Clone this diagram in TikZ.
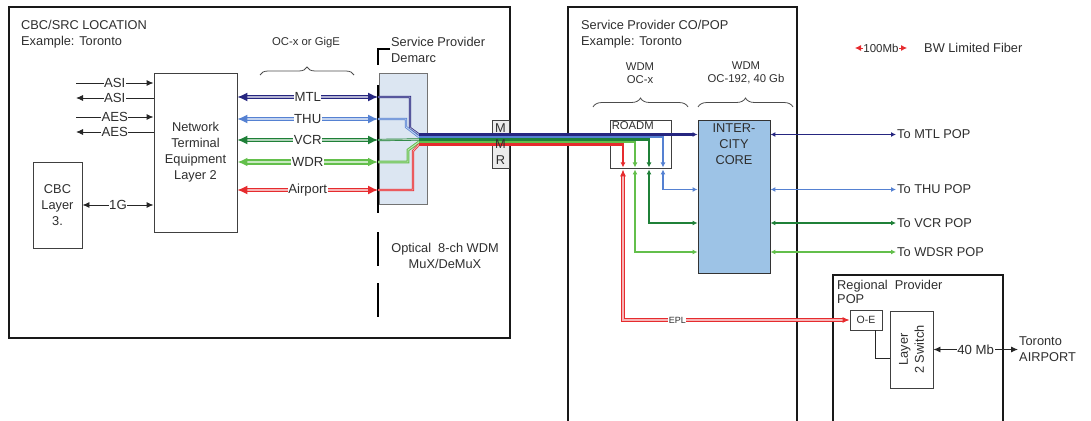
\documentclass[tikz,border=0pt]{standalone}
\usepackage{fontspec}
\setmainfont{Liberation Sans}
\usetikzlibrary{arrows.meta,decorations.pathreplacing,positioning}

\definecolor{navyln}{HTML}{262680}
\definecolor{blueln}{HTML}{5581D2}
\definecolor{greenln}{HTML}{1F8038}
\definecolor{limeln}{HTML}{63BF4B}
\definecolor{redln}{HTML}{E62B2E}
\definecolor{muxfill}{HTML}{DCE6F2}
\definecolor{corefill}{HTML}{9DC3E6}
\definecolor{inktext}{HTML}{2E2E2E}

\tikzset{
  region/.style={draw=black!90, line width=1.3pt},
  unit/.style={draw=black!75, line width=0.9pt, fill=white, inner sep=1pt},
  lbl/.style={text=inktext, font=\fontsize{12.8}{16}\selectfont, align=left, inner sep=1pt},
  note/.style={text=inktext, font=\fontsize{11.3}{13}\selectfont, align=center, inner sep=1pt},
  tag/.style={fill=white, text=inktext, font=\fontsize{13.2}{14}\selectfont, inner sep=0.5pt},
  sig/.style={draw=black!85, line width=0.9pt, >={Latex[length=7pt,width=6pt]}},
  chan/.style={draw=#1, double=#1!35, line width=1.3pt, double distance=1.4pt, >={Latex[length=10pt,width=9pt]}},
  fibre/.style={draw=#1, double=#1!35, line width=0.7pt, double distance=0.9pt},
  band/.style={draw=#1, line width=2.6pt, >={Latex[length=5pt,width=5pt]}},
  drop/.style={draw=#1, line width=1.2pt, >={Latex[length=5pt,width=5pt]}},
  span/.style={decorate, decoration={brace, amplitude=8pt}, draw=black!70, line width=0.8pt},
  demarc/.style={draw=black, line width=1.6pt},
  tonte/.style={->},
  fromnte/.style={<-}
}

\begin{document}
\begin{tikzpicture}[x=1pt, y=-1pt]
  \useasboundingbox (0,0) rectangle (1091,420);
  \clip (0,0) rectangle (1091,420);

  % sites
  \node[region, minimum width=501, minimum height=331] (cbcsite) at (259.5,172.5) {};
  \node[lbl, anchor=west] (cbctitle) at (20,34) {CBC/SRC LOCATION\\Example: Toronto};
  \draw[region] (568,425) |- (797,7) -- (797,425); % open at the bottom
  \node[lbl, anchor=west] (sptitle) at (580,34) {Service Provider CO/POP\\Example: Toronto};
  \draw[region] (833,425) |- (1003,275) -- (1003,425);
  \node[lbl, anchor=west, font=\fontsize{12.8}{14.5}\selectfont] (regtitle) at (836,292) {Regional\ \ Provider\\POP};

  % CBC equipment
  \node[unit, lbl, align=center, minimum width=83, minimum height=159] (nte) at (195.5,152.5) {Network\\Terminal\\Equipment\\Layer 2};
  \node[unit, lbl, align=center, minimum width=49, minimum height=86] (cbcl3) at (57.5,205) {CBC\\Layer\\3.};
  \draw[sig, <->] (cbcl3.east) -- node[tag] (onegig) {1G} (cbcl3.east -| nte.west);
  \foreach \y/\nm/\dir [count=\i] in {83/ASI/tonte, 98/ASI/fromnte, 117/AES/tonte, 132/AES/fromnte} {
    \coordinate (feed\i) at (76,\y);
    \draw[sig, \dir] (feed\i) -- node[tag] (feedlbl\i) {\nm} (feed\i -| nte.west);
  }
  \draw[span] (260,75) -- (354,75);
  \node[note] (ocx) at (306,43) {OC-x or GigE};

  % demarc and mux
  \node[fill=muxfill, draw=black!55, line width=0.9pt, minimum width=48, minimum height=131] (mux) at (403,138.5) {};
  \draw[demarc] (390,49) -- (378,49) -- (378,65);
  \foreach \a/\b in {85/213, 232/266, 283/317} \draw[demarc] (378,\a) -- (378,\b);
  \node[lbl, anchor=west] (dmlbl) at (390,50) {Service Provider\\Demarc};
  \node[lbl, align=center] (muxlbl) at (445,256) {Optical\ \ 8-ch WDM\\MuX/DeMuX};

  \foreach \y/\nm/\col/\w in {97/MTL/navyln/1.3, 119/THU/blueln/1.3, 140/VCR/greenln/1.3, 162/WDR/limeln/2, 190/Airport/redln/1.3} {
    \coordinate (dm\nm) at (378,\y);
    \draw[chan=\col, line width=\w pt, <->] (dm\nm -| nte.east) -- node[tag] (ch\nm) {\nm} (dm\nm);
  }
  \coordinate (mixpt) at (419,139.5);
  \draw[fibre=navyln] (dmMTL) -- (410,97) -- (410,128) -- ([yshift=5pt]mixpt);
  \draw[fibre=blueln] (dmTHU) -- (406,119) -- (406,127) -- ([yshift=2.5pt]mixpt);
  \draw[fibre=greenln] (dmVCR) -- (mixpt);
  \draw[fibre=limeln, line width=1pt] (dmWDR) -- (408,162) -- (408,150) -- ([yshift=-2.5pt]mixpt);
  \draw[fibre=redln] (dmAirport) -- (413,190) -- (413,151) -- ([yshift=-5pt]mixpt);

  % service provider equipment
  \node[unit, fill=black!8, minimum width=17, minimum height=48] (mmr) at (500.5,144) {};
  \node[unit, minimum width=61, minimum height=48] (roadm) at (640.5,144) {};
  \node[note, anchor=north west, inner sep=2pt] (roadmlbl) at (roadm.north west) {ROADM};
  \node[unit, fill=corefill, draw=black!80, minimum width=72, minimum height=153] (core) at (734,196.5) {};
  \node[lbl, align=center, below=3pt of core.north] (corelbl) {INTER-\\CITY\\CORE};
  \draw[span, decoration={amplitude=9pt}] (593,107) -- (688,107);
  \draw[span, decoration={amplitude=9pt}] (698,107) -- (793,107);
  \node[note] (wdmx) at (640,73) {WDM\\OC-x};
  \node[note] (wdmcore) at (746,73) {WDM\\OC-192, 40 Gb};

  \foreach \y/\nm/\col/\w in {134.5/MTL/navyln/1.1, 189.5/THU/blueln/1.1, 223/VCR/greenln/1.3, 252/WDSR/limeln/2} {
    \node[lbl, anchor=west] (to\nm) at (896,\y) {To \nm\ POP};
    \draw[drop=\col, line width=\w pt, <->] (to\nm -| core.east) -- (to\nm.west);
  }

  % fibre bundle through the MMR and the ROADM
  \draw[band=navyln, ->] ([yshift=5pt]mixpt) -- (toMTL -| core.west);
  \foreach \col/\s/\x/\nm in {blueln/2.5/22.5/THU, greenln/0/8.5/VCR, limeln/-2.5/-5.5/WDSR} {
    \draw[band=\col, ->, shorten >=1pt] ([yshift=\s pt]mixpt) -| ([xshift=\x pt]roadm.south);
    \draw[drop=\col, <->, shorten <=1pt] ([xshift=\x pt]roadm.south) |- (to\nm -| core.west);
  }
  \draw[band=redln, ->, shorten >=1pt] ([yshift=-5pt]mixpt) -| ([xshift=-17.5pt]roadm.south);
  \node[lbl, align=center] (mmrlbl) at (mmr.center) {M\\M\\R};

  % regional provider
  \node[unit, font=\fontsize{10.5}{12}\selectfont, text=inktext, minimum width=32, minimum height=20] (oe) at (866,320) {O-E};
  \draw[chan=redln, line width=1pt, double distance=1.2pt, <->, >={Latex[length=7pt,width=6pt]}, shorten <=1pt]
    ([xshift=-17.5pt]roadm.south) |- node[tag, font=\fontsize{9}{10}\selectfont, pos=0.62] (epl) {EPL} (oe.west);
  \node[unit, minimum width=43, minimum height=77] (l2sw) at (911.5,349.5) {};
  \node[lbl, align=center, rotate=90] (l2swlbl) at (l2sw.center) {Layer\\2 Switch};
  \draw[sig] ([xshift=9pt]oe.south) |- ([yshift=-8.5pt]l2sw.west);
  \node[lbl, anchor=west] (airport) at (1018,349) {Toronto\\AIRPORT};
  \draw[sig, <->] (l2sw.east) -- node[tag] (fortymb) {40 Mb} (l2sw.east -| airport.west);

  % legend
  \coordinate (legl) at (855,48);
  \coordinate (legr) at (907,48);
  \draw[drop=redln, line width=0.8pt, <->, >={Latex[length=6pt,width=6pt]}] (legl) -- node[tag, font=\fontsize{11.5}{12}\selectfont] (legbw) {100Mb} (legr);
  \node[lbl, anchor=west] (legtext) at (923,48) {BW Limited Fiber};
\end{tikzpicture}
\end{document}
